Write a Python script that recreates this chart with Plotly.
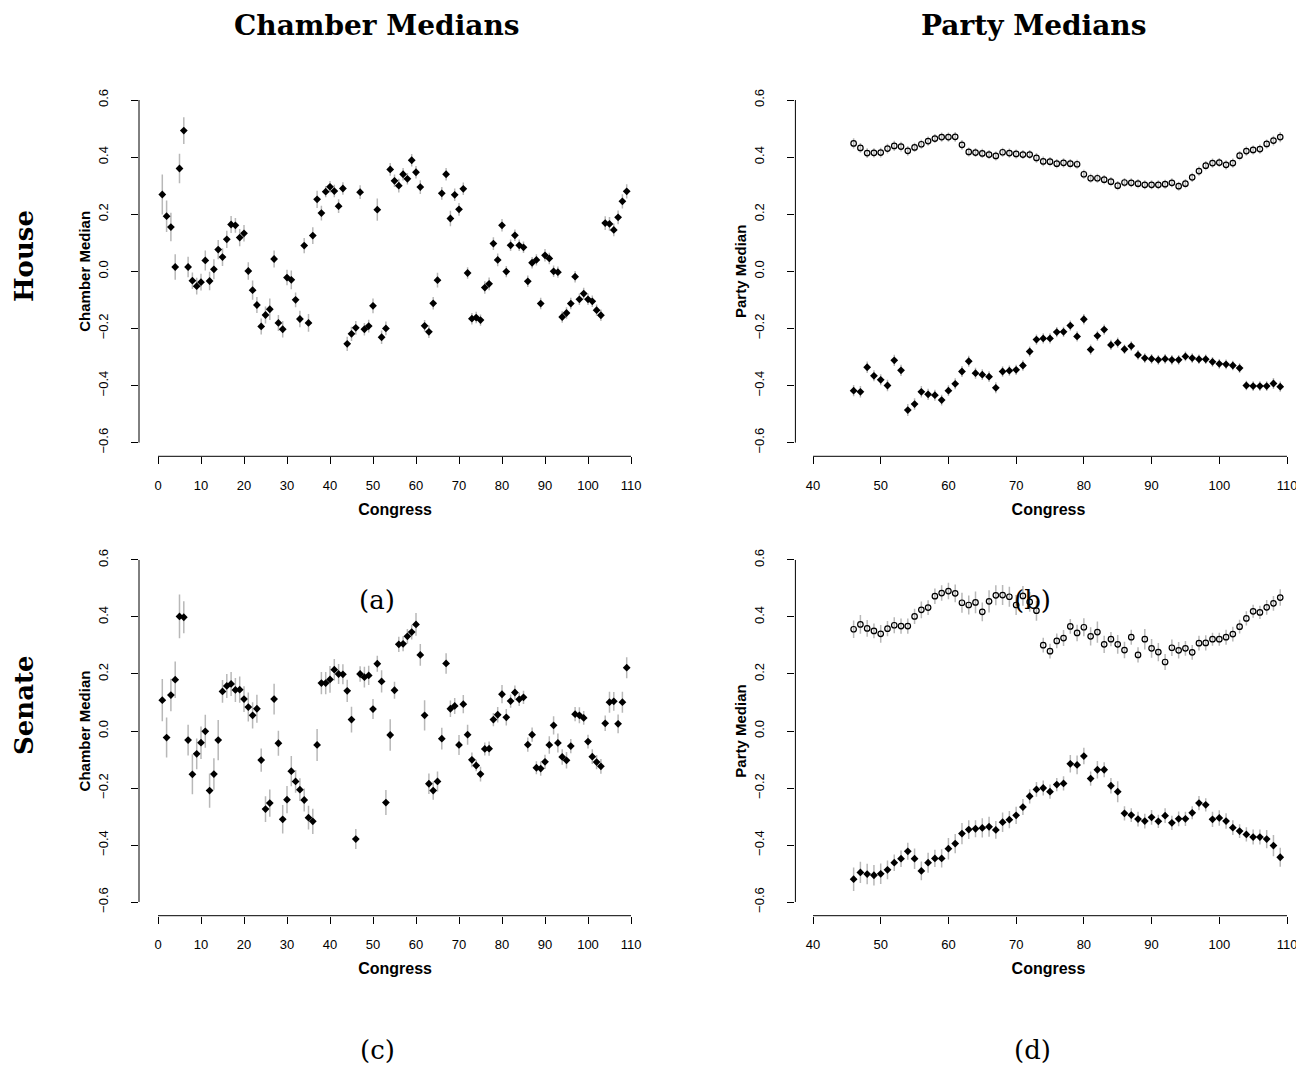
import plotly.graph_objects as go

# ---------------- data ----------------
congress_chamber = list(range(1, 110))
congress_party = list(range(46, 110))

house_chamber = [
    0.269, 0.193, 0.155, 0.015, 0.360, 0.493, 0.015, -0.033, -0.052, -0.038,
    0.038, -0.034, 0.007, 0.076, 0.050, 0.112, 0.164, 0.161, 0.118, 0.133,
    0.001, -0.066, -0.118, -0.193, -0.153, -0.133, 0.043, -0.181, -0.203, -0.022,
    -0.030, -0.100, -0.167, 0.090, -0.181, 0.125, 0.252, 0.204, 0.279, 0.296,
    0.281, 0.228, 0.290, -0.254, -0.219, -0.198, 0.277, -0.203, -0.192, -0.121,
    0.216, -0.231, -0.200, 0.357, 0.317, 0.300, 0.340, 0.324, 0.389, 0.347,
    0.295, -0.191, -0.212, -0.112, -0.031, 0.273, 0.340, 0.185, 0.268, 0.217,
    0.289, -0.006, -0.166, -0.162, -0.171, -0.057, -0.044, 0.097, 0.040, 0.161,
    -0.001, 0.091, 0.126, 0.091, 0.084, -0.035, 0.030, 0.040, -0.113, 0.056,
    0.045, 0.000, -0.003, -0.160, -0.146, -0.113, -0.019, -0.098, -0.078, -0.098,
    -0.105, -0.136, -0.154, 0.169, 0.166, 0.145, 0.189, 0.245, 0.280]
house_chamber_err = [
    .070, .055, .050, .045, .052, .047, .036, .029, .029, .029,
    .035, .032, .035, .034, .031, .030, .030, .026, .030, .029,
    .031, .034, .028, .028, .030, .038, .030, .028, .029, .027,
    .033, .026, .029, .027, .031, .029, .030, .026, .020, .020,
    .022, .024, .022, .025, .025, .024, .024, .022, .022, .026,
    .039, .024, .024, .022, .022, .024, .022, .020, .022, .022,
    .024, .020, .022, .022, .026, .022, .022, .027, .022, .022,
    .022, .020, .020, .020, .020, .022, .022, .022, .022, .022,
    .020, .020, .020, .020, .020, .020, .020, .020, .020, .022,
    .020, .020, .020, .020, .020, .020, .020, .020, .020, .020,
    .020, .020, .020, .024, .024, .022, .024, .025, .025]

senate_chamber = [
    0.108, -0.023, 0.126, 0.180, 0.402, 0.399, -0.032, -0.152, -0.080, -0.041,
    -0.001, -0.209, -0.151, -0.032, 0.139, 0.158, 0.165, 0.144, 0.145, 0.112,
    0.084, 0.055, 0.078, -0.102, -0.274, -0.253, 0.112, -0.043, -0.310, -0.241,
    -0.141, -0.177, -0.206, -0.242, -0.304, -0.317, -0.049, 0.168, 0.168, 0.181,
    0.215, 0.200, 0.199, 0.141, 0.040, -0.379, 0.200, 0.189, 0.195, 0.077,
    0.236, 0.174, -0.251, -0.014, 0.143, 0.304, 0.306, 0.332, 0.347, 0.374,
    0.267, 0.055, -0.185, -0.209, -0.177, -0.027, 0.237, 0.078, 0.088, -0.049,
    0.094, -0.013, -0.101, -0.121, -0.151, -0.063, -0.062, 0.040, 0.057, 0.129,
    0.048, 0.105, 0.135, 0.111, 0.118, -0.048, -0.013, -0.129, -0.132, -0.108,
    -0.049, 0.020, -0.042, -0.091, -0.103, -0.053, 0.059, 0.055, 0.046, -0.037,
    -0.090, -0.109, -0.124, 0.027, 0.101, 0.104, 0.025, 0.101, 0.222]
senate_chamber_err = [
    .074, .070, .057, .064, .077, .056, .054, .070, .054, .057,
    .058, .060, .055, .071, .040, .042, .042, .042, .046, .045,
    .051, .046, .049, .041, .045, .048, .054, .044, .050, .048,
    .053, .040, .040, .040, .042, .044, .056, .039, .039, .047,
    .038, .035, .035, .039, .045, .035, .027, .036, .034, .035,
    .028, .039, .044, .055, .030, .027, .026, .026, .026, .040,
    .038, .053, .036, .032, .035, .038, .036, .029, .028, .035,
    .032, .035, .026, .020, .026, .023, .025, .023, .027, .032,
    .029, .023, .025, .023, .023, .025, .025, .023, .025, .025,
    .031, .032, .033, .027, .029, .025, .025, .028, .024, .024,
    .026, .025, .026, .027, .037, .033, .033, .037, .037]

house_rep = [
    .448, .432, .414, .415, .416, .430, .439, .437, .422, .434,
    .445, .456, .465, .470, .470, .471, .443, .418, .416, .413,
    .409, .404, .417, .414, .411, .409, .409, .397, .385, .384,
    .377, .380, .377, .375, .340, .326, .326, .321, .314, .300,
    .311, .310, .307, .303, .303, .303, .305, .310, .298, .307,
    .329, .351, .370, .379, .381, .373, .379, .405, .421, .425,
    .428, .446, .458, .470]
house_rep_err = [
    .018, .017, .017, .016, .017, .017, .018, .017, .017, .016,
    .016, .016, .016, .016, .016, .017, .017, .016, .016, .016,
    .016, .016, .016, .016, .016, .016, .016, .017, .017, .016,
    .016, .016, .016, .016, .016, .016, .016, .016, .016, .016,
    .016, .016, .016, .016, .016, .016, .016, .016, .016, .016,
    .016, .016, .016, .016, .016, .016, .016, .016, .016, .016,
    .016, .016, .017, .018]
house_dem = [
    -.418, -.422, -.336, -.366, -.380, -.400, -.312, -.347, -.486, -.465,
    -.422, -.431, -.434, -.451, -.418, -.394, -.351, -.315, -.357, -.362,
    -.369, -.408, -.351, -.348, -.345, -.330, -.281, -.239, -.235, -.235,
    -.213, -.212, -.190, -.228, -.168, -.274, -.226, -.204, -.258, -.250,
    -.273, -.262, -.293, -.304, -.307, -.310, -.307, -.310, -.310, -.298,
    -.304, -.308, -.308, -.317, -.324, -.326, -.330, -.339, -.400, -.402,
    -.402, -.402, -.393, -.404]
house_dem_err = [
    .020, .020, .020, .019, .019, .020, .020, .020, .021, .020,
    .020, .020, .019, .019, .019, .019, .019, .019, .019, .019,
    .019, .019, .018, .018, .018, .018, .018, .018, .018, .018,
    .018, .018, .018, .018, .018, .018, .018, .018, .018, .018,
    .017, .017, .017, .017, .017, .017, .017, .017, .017, .017,
    .017, .017, .017, .017, .017, .017, .017, .017, .017, .017,
    .017, .017, .019, .018]

senate_rep = [
    .357, .374, .360, .351, .341, .359, .371, .368, .368, .402,
    .425, .433, .473, .484, .491, .483, .450, .442, .451, .418,
    .455, .476, .477, .471, .442, .474, .453, .422, .301, .280,
    .316, .326, .367, .344, .364, .332, .347, .304, .322, .304,
    .284, .329, .267, .322, .290, .277, .242, .292, .283, .290,
    .276, .308, .309, .322, .322, .329, .340, .366, .395, .420,
    .416, .434, .448, .468]
senate_rep_err = [
    .031, .033, .029, .026, .031, .027, .028, .027, .027, .027,
    .029, .026, .027, .027, .029, .031, .035, .033, .038, .033,
    .039, .035, .035, .035, .035, .035, .035, .035, .026, .026,
    .026, .028, .026, .029, .032, .032, .037, .030, .025, .033,
    .029, .026, .027, .036, .033, .032, .028, .029, .029, .026,
    .026, .026, .027, .023, .023, .026, .026, .024, .025, .023,
    .023, .026, .026, .029]
senate_dem = [
    -.520, -.496, -.502, -.506, -.501, -.487, -.462, -.448, -.422, -.448,
    -.491, -.462, -.447, -.447, -.413, -.395, -.360, -.346, -.343, -.340,
    -.336, -.347, -.320, -.311, -.296, -.267, -.229, -.205, -.200, -.213,
    -.188, -.184, -.115, -.119, -.088, -.167, -.136, -.136, -.192, -.213,
    -.289, -.295, -.309, -.316, -.303, -.317, -.297, -.322, -.308, -.308,
    -.287, -.253, -.259, -.310, -.305, -.316, -.339, -.351, -.363, -.372,
    -.372, -.379, -.402, -.443]
senate_dem_err = [
    .041, .037, .036, .036, .036, .033, .029, .029, .030, .036,
    .033, .035, .030, .032, .038, .034, .037, .033, .030, .034,
    .035, .031, .034, .030, .030, .028, .025, .026, .026, .025,
    .023, .025, .031, .033, .029, .025, .031, .026, .027, .037,
    .025, .024, .026, .026, .026, .023, .026, .025, .026, .025,
    .023, .025, .023, .027, .027, .027, .026, .024, .025, .026,
    .026, .032, .037, .033]

x_ticks_chamber = [0, 10, 20, 30, 40, 50, 60, 70, 80, 90, 100, 110]
x_ticks_party = [40, 50, 60, 70, 80, 90, 100, 110]
y_ticks = [-0.6, -0.4, -0.2, 0.0, 0.2, 0.4, 0.6]

column_titles = ["Chamber Medians", "Party Medians"]
row_titles = ["House", "Senate"]
panel_letters = ["(a)", "(b)", "(c)", "(d)"]

# ---------------- styling ----------------
OFF = 8                              # page body margin shifts the figure by 8px
W, H = 1304 - OFF, 1072 - 2 * OFF
ERR_COLOR = "#b8b8b8"
SANS = "Liberation Sans, Arial, sans-serif"
SERIF = "DejaVu Serif, serif"

fig = go.Figure()

def fx(px):
    return (px - OFF) / W

def fy(py):
    return 1 - (py - OFF) / H

def x_axis_geom(left_px, right_px, px0, val0, px1, val1):
    """domain + range so that value val0 sits at window px0 and val1 at px1"""
    right_px = min(right_px, OFF + W)
    k = (val1 - val0) / (px1 - px0)
    return dict(dom=[fx(left_px), fx(right_px)],
                rng=[val0 + (left_px - px0) * k, val0 + (right_px - px0) * k])

cols = {
    "chamber": dict(ticks=x_ticks_chamber, **x_axis_geom(139.0, 651.1, 158, 0, 631, 110)),
    "party": dict(ticks=x_ticks_party, **x_axis_geom(795.4, 1301.6, 813, 40, 1287, 110)),
}
rows = {
    "house": [fy(456.3), fy(86.3)],
    "senate": [fy(915.7), fy(546.3)],
}

panels = [
    ("chamber", "house", "Chamber Median", ""),
    ("party", "house", "Party Median", "2"),
    ("chamber", "senate", "Chamber Median", "3"),
    ("party", "senate", "Party Median", "4"),
]

def add_pts(x, y, e, axis_sfx, symbol):
    if symbol == "diamond":
        marker = dict(symbol="diamond", size=6, color="black", line=dict(width=0))
    else:
        marker = dict(symbol="circle-open", size=5.5, color="black",
                      line=dict(color="black", width=1.2))
    fig.add_trace(go.Scatter(
        x=x, y=y, mode="markers",
        xaxis="x" + axis_sfx, yaxis="y" + axis_sfx,
        error_y=dict(type="data", array=e, visible=True, color=ERR_COLOR,
                     thickness=1.5, width=0),
        marker=marker, showlegend=False, hoverinfo="x+y"))

add_pts(congress_chamber, house_chamber, house_chamber_err, "", "diamond")
add_pts(congress_party, house_rep, house_rep_err, "2", "circle-open")
add_pts(congress_party, house_dem, house_dem_err, "2", "diamond")
add_pts(congress_chamber, senate_chamber, senate_chamber_err, "3", "diamond")
add_pts(congress_party, senate_rep, senate_rep_err, "4", "circle-open")
add_pts(congress_party, senate_dem, senate_dem_err, "4", "diamond")

layout = dict(
    width=W, height=H, margin=dict(l=0, r=0, t=0, b=0),
    paper_bgcolor="white", plot_bgcolor="white", showlegend=False,
)
shapes = []
for col, row, ytitle, sfx in panels:
    c = cols[col]
    layout["xaxis" + sfx] = dict(
        domain=c["dom"], range=c["rng"], anchor="y" + sfx,
        tickvals=c["ticks"], ticktext=[str(t) for t in c["ticks"]],
        ticks="outside", ticklen=7, tickwidth=1, tickcolor="black",
        ticklabelstandoff=10, ticklabeloverflow="allow",
        showgrid=False, zeroline=False, showline=False,
        tickfont=dict(family=SANS, size=13, color="black"),
        title=dict(text="<b>Congress</b>", standoff=11,
                   font=dict(family=SANS, size=16, color="black")),
    )
    layout["yaxis" + sfx] = dict(
        domain=rows[row], range=[-0.648, 0.648], anchor="x" + sfx,
        tickvals=y_ticks,
        ticktext=["%.1f" % t if t >= 0 else "\u2212%.1f" % -t for t in y_ticks],
        tickangle=-90,
        ticks="outside", ticklen=7, tickwidth=1, tickcolor="black",
        ticklabelstandoff=18,
        showgrid=False, zeroline=False, showline=False,
        tickfont=dict(family=SANS, size=13, color="black"),
        title=dict(text="<b>%s</b>" % ytitle, standoff=1,
                   font=dict(family=SANS, size=15, color="black")),
    )
    shapes.append(dict(type="line", xref="x" + sfx, yref="y" + sfx + " domain",
                       x0=c["ticks"][0], x1=c["ticks"][-1], y0=0, y1=0,
                       line=dict(color="black", width=1)))
    shapes.append(dict(type="line", xref="x" + sfx + " domain", yref="y" + sfx,
                       x0=0, x1=0, y0=y_ticks[0], y1=y_ticks[-1],
                       line=dict(color="black", width=1)))
layout["shapes"] = shapes

ann = []
for title, cx in zip(column_titles, [377, 1033]):
    ann.append(dict(text="<b>%s</b>" % title, x=fx(cx), y=fy(25),
                    xref="paper", yref="paper", showarrow=False,
                    xanchor="center", yanchor="middle",
                    font=dict(family=SERIF, size=28, color="black")))
for title, cy in zip(row_titles, [256, 705]):
    ann.append(dict(text="<b>%s</b>" % title, x=0, y=fy(cy),
                    xref="paper", yref="paper", showarrow=False, textangle=-90,
                    xanchor="left", yanchor="middle", borderpad=0,
                    font=dict(family=SERIF, size=26, color="black")))
for lab, (cx, cy) in zip(panel_letters, [(377, 600), (1032, 600), (377, 1050), (1032, 1050)]):
    ann.append(dict(text=lab, x=fx(cx), y=fy(cy),
                    xref="paper", yref="paper", showarrow=False,
                    xanchor="center", yanchor="middle", borderpad=0,
                    font=dict(family=SERIF, size=26, color="black")))
layout["annotations"] = ann

fig.update_layout(**layout)
fig.write_html("out.html")
